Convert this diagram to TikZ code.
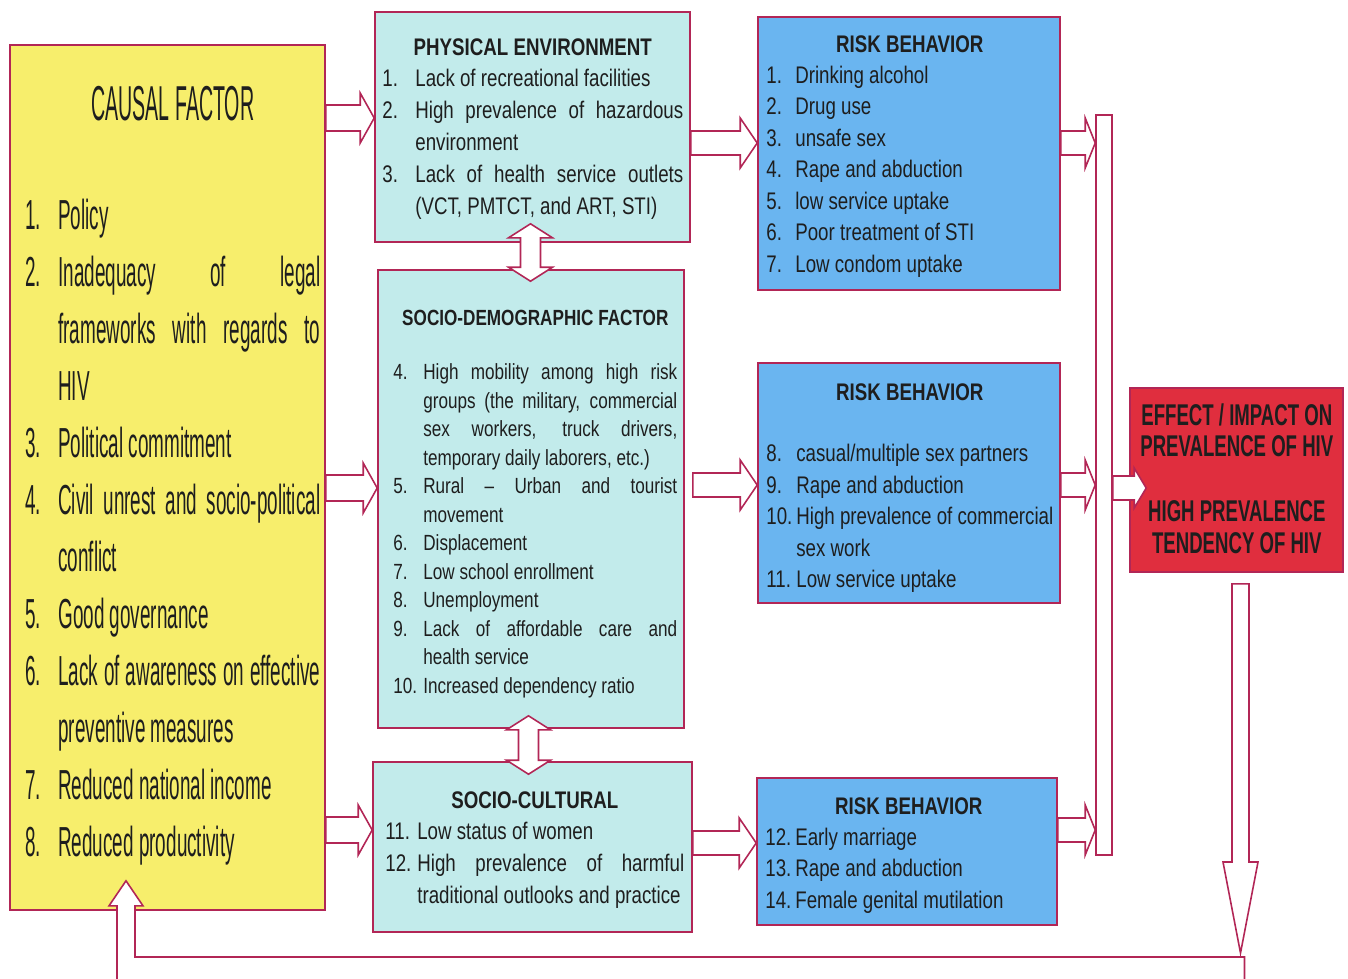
\documentclass[tikz,border=0pt]{standalone}
\usepackage{fontspec}
\setmainfont{Liberation Sans}
\newfontfamily\narrowsf[FakeStretch=0.78]{Liberation Sans}
\newfontfamily\tallsf[FakeStretch=0.45]{Liberation Sans}
\newfontfamily\headsf[FakeStretch=0.40]{Liberation Sans}
\newfontfamily\effectsf[FakeStretch=0.62]{Liberation Sans}
\usetikzlibrary{positioning}
\usetikzlibrary{calc}
\usetikzlibrary{fit}

\definecolor{causalfill}{RGB}{247,238,108}
\definecolor{envfill}{RGB}{194,235,235}
\definecolor{riskfill}{RGB}{106,181,240}
\definecolor{effectfill}{RGB}{224,46,62}
\definecolor{edge}{RGB}{178,38,86}
\definecolor{ink}{RGB}{30,30,30}

\hyphenpenalty=10000
\exhyphenpenalty=10000
\tolerance=9999

\newlength\numw
\newcommand\itm[2]{\par\hangindent=\numw\hangafter=1\noindent\makebox[\numw][l]{#1}#2}
\newcommand\boxtitle[1]{\makebox[\linewidth]{\bfseries #1}\par}

% block arrow pointing right: tail, tip, shaft half, head half, head length
\newcommand\rblock[5]{%
  \draw[blockarrow] ($(#1 |- #2)+(0,#3)$) -- ($(#2)+(-#5,#3)$) -- ($(#2)+(-#5,#4)$) -- (#2)
    -- ($(#2)+(-#5,-#4)$) -- ($(#2)+(-#5,-#3)$) -- ($(#1 |- #2)+(0,-#3)$) -- cycle;}
% double block arrow, vertical: top tip, bottom tip, shaft half, head half, head length
\newcommand\vdblock[5]{%
  \draw[blockarrow] (#1) -- ($(#1)+(#4,#5)$) -- ($(#1)+(#3,#5)$) -- ($(#2)+(#3,-#5)$)
    -- ($(#2)+(#4,-#5)$) -- (#2) -- ($(#2)+(-#4,-#5)$) -- ($(#2)+(-#3,-#5)$)
    -- ($(#1)+(-#3,#5)$) -- ($(#1)+(-#4,#5)$) -- cycle;}

\begin{document}
\begin{tikzpicture}[x=0.02cm, y=-0.02cm,
	box/.style={draw=edge, line width=0.9pt, inner sep=0pt},
	blockarrow/.style={draw=edge, line width=0.9pt, fill=white, line join=miter},
	txt/.style={inner sep=0pt, anchor=base west, align=justify, text=ink}]
	
	\useasboundingbox (0,0) rectangle (1348,978);
	
	% boxes.....................
	\node[box, fill=causalfill, fit={(10,45) (325,910)}] (causal) {};
	\node[box, fill=envfill, fit={(375,12) (690,242)}] (physical) {};
	\node[box, fill=envfill, fit={(378,270) (684,728)}] (sociodem) {};
	\node[box, fill=envfill, fit={(373,762) (692,932)}] (sociocult) {};
	\node[box, fill=riskfill, fit={(758,17) (1060,290)}] (risk1) {};
	\node[box, fill=riskfill, fit={(758,363) (1060,603)}] (risk2) {};
	\node[box, fill=riskfill, fit={(757,778) (1057,925)}] (risk3) {};
	\node[box, fill=effectfill, fit={(1130,388) (1343,572)}] (effect) {};
	\node[box, fill=white, fit={(1096,115) (1112,855)}] (collect) {};
	
	% arrow ends..................
	\coordinate (pE) at (physical.east |- 0,143);
	\coordinate (sdE) at ($(sociodem.east |- 0,485)+(8,0)$);
	\coordinate (scE) at (sociocult.east |- 0,843);
	\coordinate (r1) at (risk1.west |- 0,143);
	\coordinate (r2) at (risk2.west |- 0,485);
	\coordinate (r3) at (risk3.west |- 0,843);
	\coordinate (c1) at (collect.west |- 0,143);
	\coordinate (c2) at (collect.west |- 0,485);
	\coordinate (c3) at (collect.west |- 0,830);
	\coordinate (tipP) at (physical.west |- 0,118);
	\coordinate (tipD) at (sociodem.west |- 0,488);
	\coordinate (tipC) at (sociocult.west |- 0,830);
	\coordinate (tipE) at ($(effect.west |- 0,488)+(17,0)$);
	
	% causal factor -> columns..........
	\rblock{causal.east}{tipP}{13}{25}{14}
	\rblock{causal.east}{tipD}{13}{25}{14}
	\rblock{causal.east}{tipC}{13}{25}{14}
	
	% columns -> risk behavior..........
	\rblock{pE}{r1}{12}{25}{17}
	\rblock{sdE}{r2}{12}{25}{17}
	\rblock{scE}{r3}{12}{25}{17}
	
	% risk behavior -> collecting bar...
	\rblock{risk1.east}{c1}{12}{25}{10}
	\rblock{risk2.east}{c2}{12}{25}{10}
	\rblock{risk3.east}{c3}{12}{25}{10}
	\rblock{collect.east}{tipE}{12}{20}{12}
	
	% double arrows between columns.....
	\coordinate (dA1) at ($(physical.south)+(-2,-19)$);
	\coordinate (dA2) at ($(sociodem.north -| dA1)+(0,12)$);
	\coordinate (dB1) at ($(sociodem.south -| dA1)+(-2,-13)$);
	\coordinate (dB2) at ($(sociocult.north -| dB1)+(0,13)$);
	\vdblock{dA1}{dA2}{10}{22}{14}
	\vdblock{dB1}{dB2}{10}{22}{14}
	
	% feedback loop.....................
	\coordinate (dn1) at ($(effect.south)+(4,11)$);
	\coordinate (dn2) at (dn1 |- 0,953);
	\draw[blockarrow] ($(dn1)+(-8.5,0)$) -- ($(dn2)+(-8.5,-91)$) -- ($(dn2)+(-17.5,-91)$) -- (dn2)
		-- ($(dn2)+(17.5,-91)$) -- ($(dn2)+(8.5,-91)$) -- ($(dn1)+(8.5,0)$) -- cycle;
	\coordinate (fb) at ($(causal.south)+(-41.5,-30)$);
	\draw[blockarrow] ($(fb |- 0,980)+(-9,0)$) -- ($(fb)+(-9,25)$) -- ($(fb)+(-17,25)$) -- (fb)
		-- ($(fb)+(17,25)$) -- ($(fb)+(9,25)$) -- ($(fb |- 0,957)+(9,0)$)
		-- ($(dn2 |- 0,957)+(4,0)$) -- ($(dn2 |- 0,980)+(4,0)$);
	
	% texts.............................
	\node[txt, text width=5.9cm] (causal-txt) at (25,120) {\setlength\numw{0.66cm}%
		\makebox[\linewidth]{\headsf\fontsize{27.9}{32}\selectfont CAUSAL FACTOR}\par
		\tallsf\fontsize{23.9}{32.4}\selectfont\vspace{1.06cm}%
		\itm{1.}{Policy}
		\itm{2.}{Inadequacy of legal\linebreak frameworks with regards to\linebreak HIV}
		\itm{3.}{Political commitment}
		\itm{4.}{Civil unrest and socio-political\linebreak conflict}
		\itm{5.}{Good governance}
		\itm{6.}{Lack of awareness on effective\linebreak preventive measures}
		\itm{7.}{Reduced national income}
		\itm{8.}{Reduced productivity}\par};
	
	\node[txt, text width=6.02cm] (physical-txt) at (382,55) {\setlength\numw{0.66cm}%
		\narrowsf\fontsize{13.66}{18.2}\selectfont
		\boxtitle{PHYSICAL ENVIRONMENT}
		\itm{1.}{Lack of recreational facilities}
		\itm{2.}{High prevalence of hazardous\linebreak environment}
		\itm{3.}{Lack of health service outlets\linebreak (VCT, PMTCT, and ART, STI)}\par};
	
	\node[txt, text width=5.68cm] (sociodem-txt) at (393,325) {\setlength\numw{0.6cm}%
		\narrowsf\fontsize{12.5}{16.2}\selectfont
		\boxtitle{SOCIO-DEMOGRAPHIC FACTOR}\vspace{0.53cm}%
		\itm{4.}{High mobility among high risk\linebreak groups (the military, commercial\linebreak sex workers, truck drivers,\linebreak temporary daily laborers, etc.)}
		\itm{5.}{Rural – Urban and tourist\linebreak movement}
		\itm{6.}{Displacement}
		\itm{7.}{Low school enrollment}
		\itm{8.}{Unemployment}
		\itm{9.}{Lack of affordable care and\linebreak health service}
		\itm{10.}{Increased dependency ratio}\par};
	
	\node[txt, text width=5.98cm] (sociocult-txt) at (385,808) {\setlength\numw{0.64cm}%
		\narrowsf\fontsize{13.66}{18.2}\selectfont
		\boxtitle{SOCIO-CULTURAL}
		\itm{11.}{Low status of women}
		\itm{12.}{High prevalence of harmful\linebreak traditional outlooks and practice}\par};
	
	\node[txt, text width=5.74cm] (risk1-txt) at (766,52) {\setlength\numw{0.58cm}%
		\narrowsf\fontsize{13.66}{17.9}\selectfont
		\boxtitle{RISK BEHAVIOR}
		\itm{1.}{Drinking alcohol}
		\itm{2.}{Drug use}
		\itm{3.}{unsafe sex}
		\itm{4.}{Rape and abduction}
		\itm{5.}{low service uptake}
		\itm{6.}{Poor treatment of STI}
		\itm{7.}{Low condom uptake}\par};
	
	\node[txt, text width=5.74cm] (risk2-txt) at (766,400) {\setlength\numw{0.6cm}%
		\narrowsf\fontsize{13.66}{17.9}\selectfont
		\boxtitle{RISK BEHAVIOR}\vspace{0.61cm}%
		\itm{8.}{casual/multiple sex partners}
		\itm{9.}{Rape and abduction}
		\itm{10.}{High prevalence of commercial\linebreak sex work}
		\itm{11.}{Low service uptake}\par};
	
	\node[txt, text width=5.74cm] (risk3-txt) at (765,814) {\setlength\numw{0.6cm}%
		\narrowsf\fontsize{13.66}{17.9}\selectfont
		\boxtitle{RISK BEHAVIOR}
		\itm{12.}{Early marriage}
		\itm{13.}{Rape and abduction}
		\itm{14.}{Female genital mutilation}\par};
	
	\node[txt, anchor=base west, text width=4.26cm] (effect-txt) at (1130,425)
		{\centering\effectsf\bfseries\fontsize{17.07}{18.2}\selectfont
		EFFECT / IMPACT ON\par
		PREVALENCE OF HIV\par\vspace{0.66cm}%
		HIGH PREVALENCE\par
		TENDENCY OF HIV\par};
	
\end{tikzpicture}
\end{document}
